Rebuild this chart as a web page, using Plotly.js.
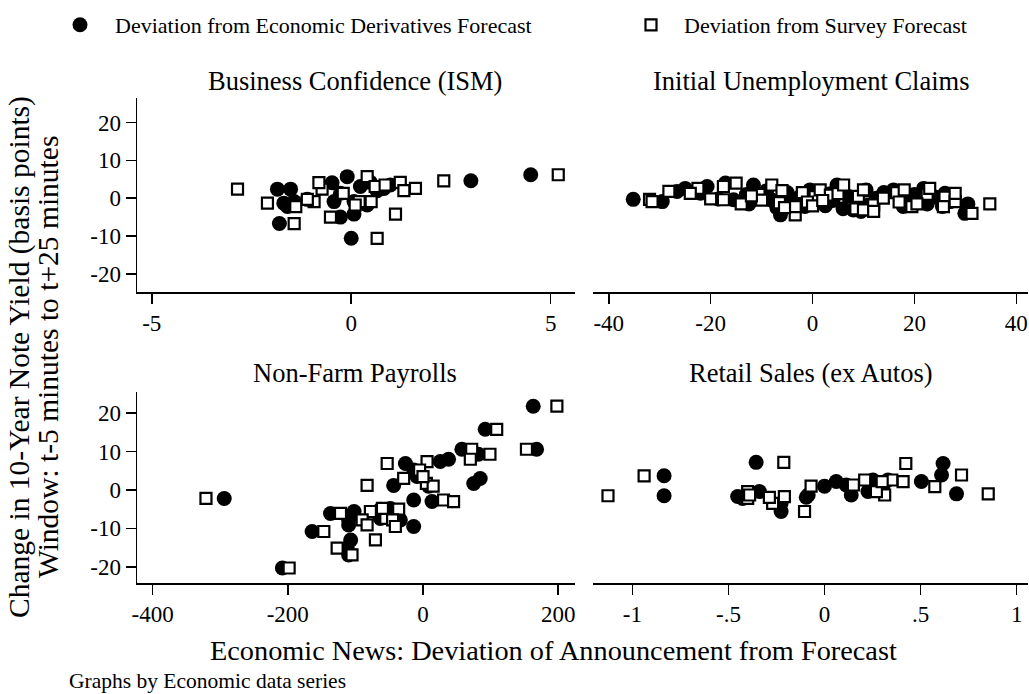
<!DOCTYPE html>
<html><head><meta charset="utf-8">
<script src="https://cdn.plot.ly/plotly-3.0.1.min.js"></script>
<style>html,body{margin:0;padding:0;background:#fff}</style>
</head><body><div id="chart" style="width:1029px;height:694px"></div>
<script>
// ---------- Data (yield change in bp, deviation vs. derivatives forecast, deviation vs. survey forecast)
const seriesNames = ["Deviation from Economic Derivatives Forecast", "Deviation from Survey Forecast"];
const panelTitles = ["Business Confidence (ISM)", "Initial Unemployment Claims", "Non-Farm Payrolls", "Retail Sales (ex Autos)"];

// Business Confidence (ISM)
const ismY      = [6.2, 4.6, -10.6, -6.7, 2.4, 2.4, 5.7, 4.1, -0.9, -5.0, -4.2, -1.3, -2.2, -0.9, -0.3, -0.9, 3.1, -1.8, 4.2, 2.0, 2.6, 3.5, 1.3];
const ismDeriv  = [4.5, 3.0, 0.0, -1.8, -1.85, -1.52, -0.1, -0.48, -0.43, -0.27, 0.07, -1.69, -1.6, -1.43, -1.1, 0.07, 0.23, 0.4, 0.48, 0.65, 0.82, 0.98, -0.27];
const ismSurvey = [5.19, 2.32, 0.65, -1.43, -2.85, -0.73, 0.4, -0.81, 0.2, -0.52, 1.11, -2.1, -1.39, -0.93, -1.1, 0.5, 0.6, 0.1, 1.23, 1.32, 1.61, 0.85, -0.2];

// Initial Unemployment Claims
const iucY      = [-0.3, -0.9, 1.8, 2.6, 1.3, 3.1, 4.0, -0.4, 3.5, 1.0, -1.5, 2.0, -0.5, -4.4, 1.5, -1.2, 0.4, -2.2, 2.2, -1.0, 0.8, -2.0, 1.2, 3.5, -0.6, -2.8, -3.1, 0.5, 2.2, -1.8, -3.5, 0.0, 1.5, 2.2, -2.2, -1.0, 1.0, 2.6, -1.5, 0.3, -2.2, -0.9, 1.3, -4.0, -1.5, -0.2, 0.6, -2.5];
const iucDeriv  = [-35.2, -29.5, -26.6, -25.0, -22.0, -20.7, -17.1, -15.5, -11.6, -13.0, -12.5, -9.0, -8.0, -6.3, -5.0, -4.0, -2.5, -1.5, -0.5, 0.5, 1.5, 2.5, 3.5, 4.8, 4.0, 6.0, 8.0, 7.0, 10.5, 11.0, 9.5, 12.5, 14.0, 15.9, 17.8, 19.0, 20.0, 21.8, 22.5, 24.0, 25.5, 27.0, 26.0, 29.9, 30.5, -18.5, -10.0, -7.0];
const iucSurvey = [-32.0, -31.5, -28.2, -22.5, -24.0, -17.5, -15.0, -17.5, -8.0, -10.5, -14.0, -6.0, -10.0, -3.4, -2.0, -6.5, 0.5, -3.4, 1.5, -1.0, 3.5, 0.0, 5.0, 6.1, 2.0, 8.5, 10.0, 9.0, 10.0, 12.0, 12.0, 13.9, 16.5, 18.0, 19.5, 17.0, 22.5, 23.0, 20.5, 26.0, 25.7, 28.0, 28.0, 31.3, 34.8, -20.0, -12.0, -5.5];

// Non-Farm Payrolls
const nfpY      = [21.8, 15.8, 10.6, 10.6, 9.3, 8.0, 7.4, 6.9, 5.2, 3.0, 1.7, 1.2, 1.0, 3.5, -2.6, -3.0, -2.2, -6.1, -5.6, -7.8, -9.1, -5.0, -7.4, -4.8, -7.8, -9.5, -10.8, -13.0, -15.1, -16.9, -20.3];
const nfpDeriv  = [163, 92, 168, 57.5, 82, 37.8, 25.5, -26, -13.8, 84.6, 75, -43.4, 8.3, -8.9, -13.8, 13.3, -294, -136.8, -102, -110, -110, -63, -63, -48.3, -33.5, -13.8, -164, -107, -112, -110, -208];
const nfpSurvey = [198, 109, 153, 72, 99, 70, 6, -53, -5, -28.6, 5, -82.7, 15, 0, 30.4, 45.2, -321, -122, -77.8, -90, -82.7, -36, -55, -60, -45, -40.9, -146.7, -70.4, -127, -105, -198];

// Retail Sales (ex Autos)
const rsY      = [3.7, -1.5, 7.2, -1.7, -2.2, -0.4, -3.5, -5.6, -1.9, -1.3, 1.0, 2.2, 1.3, -1.3, -0.4, 2.6, 0.9, 2.6, 2.2, 6.9, 3.9, -1.0];
const rsDeriv  = [-0.835, -0.835, -0.356, -0.452, -0.426, -0.339, -0.226, -0.226, -0.095, -0.085, 0.0, 0.061, 0.113, 0.139, 0.226, 0.252, 0.304, 0.33, 0.504, 0.617, 0.609, 0.687];
const rsSurvey = [-0.939, -1.127, -0.212, -0.209, -0.4, -0.4, -0.27, -0.104, -0.287, -0.39, -0.07, 0.409, 0.15, 0.313, 0.27, 0.209, 0.574, 0.35, 0.3, 0.423, 0.713, 0.852];

// Tick values and labels
const yTicks = [-20, -10, 0, 10, 20];
const yTickText = ["-20", "-10", "0", "10", "20"];
const ismTicks = [-5, 0, 5];
const ismTickText = ["-5", "0", "5"];
const iucTicks = [-40, -20, 0, 20, 40];
const iucTickText = ["-40", "-20", "0", "20", "40"];
const nfpTicks = [-400, -200, 0, 200];
const nfpTickText = ["-400", "-200", "0", "200"];
const rsTicks = [-1, -0.5, 0, 0.5, 1];
const rsTickText = ["-1", "-.5", "0", ".5", "1"];

// ---------- Build
const FONT = "Liberation Serif, Times New Roman, serif";
const panels = [
  {y: ismY, d: ismDeriv, s: ismSurvey},
  {y: iucY, d: iucDeriv, s: iucSurvey},
  {y: nfpY, d: nfpDeriv, s: nfpSurvey},
  {y: rsY, d: rsDeriv, s: rsSurvey}
];
const traces = [];
panels.forEach((p, i) => {
  const ax = i === 0 ? "" : String(i + 1);
  traces.push({
    type: "scatter", mode: "markers", x: p.d, y: p.y, xaxis: "x" + ax, yaxis: "y" + ax,
    name: seriesNames[0], legend: "legend", legendgroup: "d", showlegend: i === 0,
    marker: {symbol: "circle", size: 15, color: "black", line: {width: 0}},
    hoverinfo: "skip"
  });
});
panels.forEach((p, i) => {
  const ax = i === 0 ? "" : String(i + 1);
  traces.push({
    type: "scatter", mode: "markers", x: p.s, y: p.y, xaxis: "x" + ax, yaxis: "y" + ax,
    name: seriesNames[1], legend: "legend2", legendgroup: "s", showlegend: i === 0,
    marker: {symbol: "square", size: 11, color: "white", line: {width: 2.2, color: "black"}},
    hoverinfo: "skip"
  });
});

const W = 1029, H = 694;
const px = v => v / W, py = v => 1 - v / H;
const baseX = {
  showline: true, linecolor: "black", linewidth: 1.5, ticks: "outside", ticklen: 10, tickwidth: 1.5,
  tickcolor: "black", showgrid: false, zeroline: false, tickfont: {family: FONT, size: 23, color: "black"},
  tickmode: "array", fixedrange: true
};
const baseYL = Object.assign({}, baseX, {tickvals: yTicks, ticktext: yTickText});
const baseYR = {showline: false, showticklabels: false, ticks: "", showgrid: false, zeroline: false, fixedrange: true};
const domL = [px(137), px(575)], domR = [px(593), px(1028)];
const domT = [py(292), py(98)], domB = [py(583), py(392)];
const legFont = {family: FONT, size: 22, color: "black"};

const ann = (text, x, y, size, extra) => Object.assign({
  text: text, x: px(x), y: py(y), xref: "paper", yref: "paper", showarrow: false,
  xanchor: "center", yanchor: "middle", font: {size: size}
}, extra || {});

const layout = {
  width: W, height: H, margin: {l: 0, r: 0, t: 0, b: 0},
  paper_bgcolor: "white", plot_bgcolor: "white",
  font: {family: FONT, color: "black"},
  showlegend: true,
  legend:  {orientation: "h", x: px(45), y: py(4), xanchor: "left", yanchor: "top", itemwidth: 60,
            font: legFont, bgcolor: "rgba(0,0,0,0)"},
  legend2: {orientation: "h", x: px(618), y: py(4), xanchor: "left", yanchor: "top", itemwidth: 56,
            font: legFont, bgcolor: "rgba(0,0,0,0)"},
  xaxis:  Object.assign({}, baseX, {domain: domL, anchor: "y",  range: [-5.37, 5.61], tickvals: ismTicks, ticktext: ismTickText}),
  yaxis:  Object.assign({}, baseYL, {domain: domT, anchor: "x",  range: [-24.8, 26.5]}),
  xaxis2: Object.assign({}, baseX, {domain: domR, anchor: "y2", range: [-43.1, 42.3], tickvals: iucTicks, ticktext: iucTickText}),
  yaxis2: Object.assign({}, baseYR, {domain: domT, anchor: "x2", range: [-24.8, 26.5]}),
  xaxis3: Object.assign({}, baseX, {domain: domL, anchor: "y3", range: [-423, 224.8], tickvals: nfpTicks, ticktext: nfpTickText}),
  yaxis3: Object.assign({}, baseYL, {domain: domB, anchor: "x3", range: [-24.2, 25.5]}),
  xaxis4: Object.assign({}, baseX, {domain: domR, anchor: "y4", range: [-1.205, 1.059], tickvals: rsTicks, ticktext: rsTickText}),
  yaxis4: Object.assign({}, baseYR, {domain: domB, anchor: "x4", range: [-24.2, 25.5]}),
  annotations: [
    ann(panelTitles[0], 355, 81, 26.5),
    ann(panelTitles[1], 811, 81, 26.5),
    ann(panelTitles[2], 355, 373, 26.5),
    ann(panelTitles[3], 811, 373, 26.5),
    ann("Economic News: Deviation of Announcement from Forecast", 553, 650, 28.3),
    ann("Change in 10-Year Note Yield (basis points)", 19, 357, 29.5, {textangle: -90}),
    ann("Window: t-5 minutes to t+25 minutes", 48, 357, 29.5, {textangle: -90}),
    ann("Graphs by Economic data series", 67, 681, 21.5, {xanchor: "left"})
  ]
};
Plotly.newPlot("chart", traces, layout, {displayModeBar: false, staticPlot: true});
</script></body></html>
